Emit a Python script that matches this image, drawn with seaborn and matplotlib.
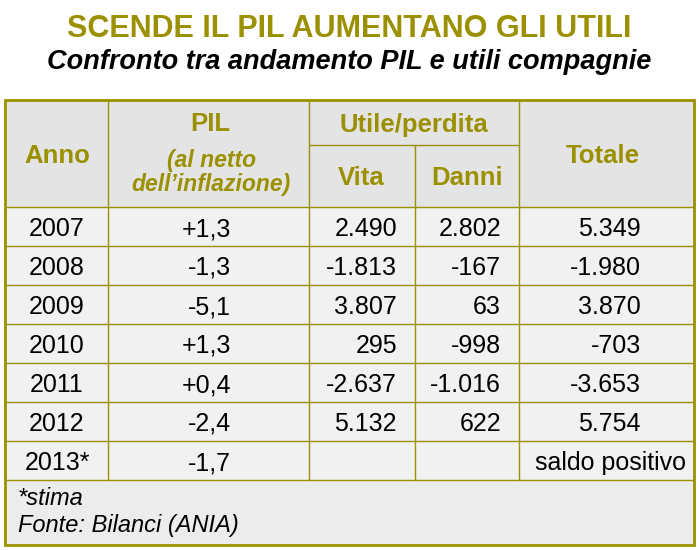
import matplotlib.pyplot as plt
import matplotlib.patches as mpatches
import seaborn as sns

# table contents
anni = ["2007", "2008", "2009", "2010", "2011", "2012", "2013*"]
pil = ["+1,3", "-1,3", "-5,1", "+1,3", "+0,4", "-2,4", "-1,7"]
vita = ["2.490", "-1.813", "3.807", "295", "-2.637", "5.132", ""]
danni = ["2.802", "-167", "63", "-998", "-1.016", "622", ""]
totale = ["5.349", "-1.980", "3.870", "-703", "-3.653", "5.754", "saldo positivo"]

titolo = "SCENDE IL PIL AUMENTANO GLI UTILI"
sottotitolo = "Confronto tra andamento PIL e utili compagnie"
note = ["*stima", "Fonte: Bilanci (ANIA)"]

OLIVE = "#9a9000"
HEAD = "#e4e4e4"
ROW = "#f1f1f1"
FOOT = "#ececec"

sns.set_theme(style="white")
plt.rcParams['font.family'] = ['Liberation Sans', 'DejaVu Sans']

fig = plt.figure(figsize=(6.99, 5.5), dpi=100)
ax = fig.add_axes([0, 0, 1, 1])
ax.set_xlim(0, 699)
ax.set_ylim(550, 0)
ax.axis("off")

# layout
cols = [5, 108, 309, 415, 519, 694]
top, mid, head_bot = 100, 145, 207
row_h = 39
row_tops = [head_bot + i * row_h for i in range(len(anni) + 1)]
foot_bot = 545
width = cols[-1] - cols[0]

# backgrounds
ax.add_patch(mpatches.Rectangle((cols[0], top), width, head_bot - top,
                                facecolor=HEAD, edgecolor="none"))
ax.add_patch(mpatches.Rectangle((cols[0], head_bot), width, row_tops[-1] - head_bot,
                                facecolor=ROW, edgecolor="none"))
ax.add_patch(mpatches.Rectangle((cols[0], row_tops[-1]), width,
                                foot_bot - row_tops[-1], facecolor=FOOT, edgecolor="none"))

# grid lines
lw = 1.0
for y in row_tops:
    ax.plot([cols[0], cols[-1]], [y, y], color=OLIVE, lw=lw)
ax.plot([cols[2], cols[4]], [mid, mid], color=OLIVE, lw=lw)
for i, x in enumerate(cols[1:-1], start=1):
    y0 = mid if i == 3 else top
    ax.plot([x, x], [y0, row_tops[-1]], color=OLIVE, lw=lw)
ax.add_patch(mpatches.Rectangle((cols[0], top), width, foot_bot - top,
                                facecolor="none", edgecolor=OLIVE, lw=2))

# titles
ax.text(349, 29, titolo, ha="center", va="center", fontsize=22, fontweight="bold", color=OLIVE)
ax.text(349, 62, sottotitolo, ha="center", va="center", fontsize=19.5, fontweight="bold",
        style="italic", color="black")

# header
hk = dict(fontsize=18.5, fontweight="bold", color=OLIVE, va="center", ha="center")
ik = dict(fontsize=16.5, fontweight="bold", style="italic", color=OLIVE, va="center", ha="center")
ax.text(57, 156, "Anno", **hk)
ax.text(210, 124, "PIL", **hk)
ax.text(212, 160, "(al netto", **ik)
ax.text(211, 185, "dell\u2019inflazione)", **ik)
ax.text(414, 125, "Utile/perdita", **hk)
ax.text(361, 178, "Vita", **hk)
ax.text(467, 178, "Danni", **hk)
ax.text(603, 156, "Totale", **hk)

# data rows (common baseline so signs don't shift the digits)
dk = dict(fontsize=18, color="black", va="baseline")
for i in range(len(anni)):
    yb = row_tops[i] + 29
    ax.text(57, yb, anni[i], ha="center", **dk)
    ax.text(231, yb, pil[i], ha="right", **dk)
    ax.text(397, yb, vita[i], ha="right", **dk)
    ax.text(501, yb, danni[i], ha="right", **dk)
    is_num = totale[i][0].isdigit() or totale[i][0] == "-"
    ax.text(641 if is_num else 686, yb, totale[i], ha="right", **dk)

# footer
ax.text(18, 505, note[0], fontsize=17, style="italic", color="black", va="baseline")
ax.text(18, 532, note[1], fontsize=17, style="italic", color="black", va="baseline")

fig.savefig("out.png", dpi=100)
